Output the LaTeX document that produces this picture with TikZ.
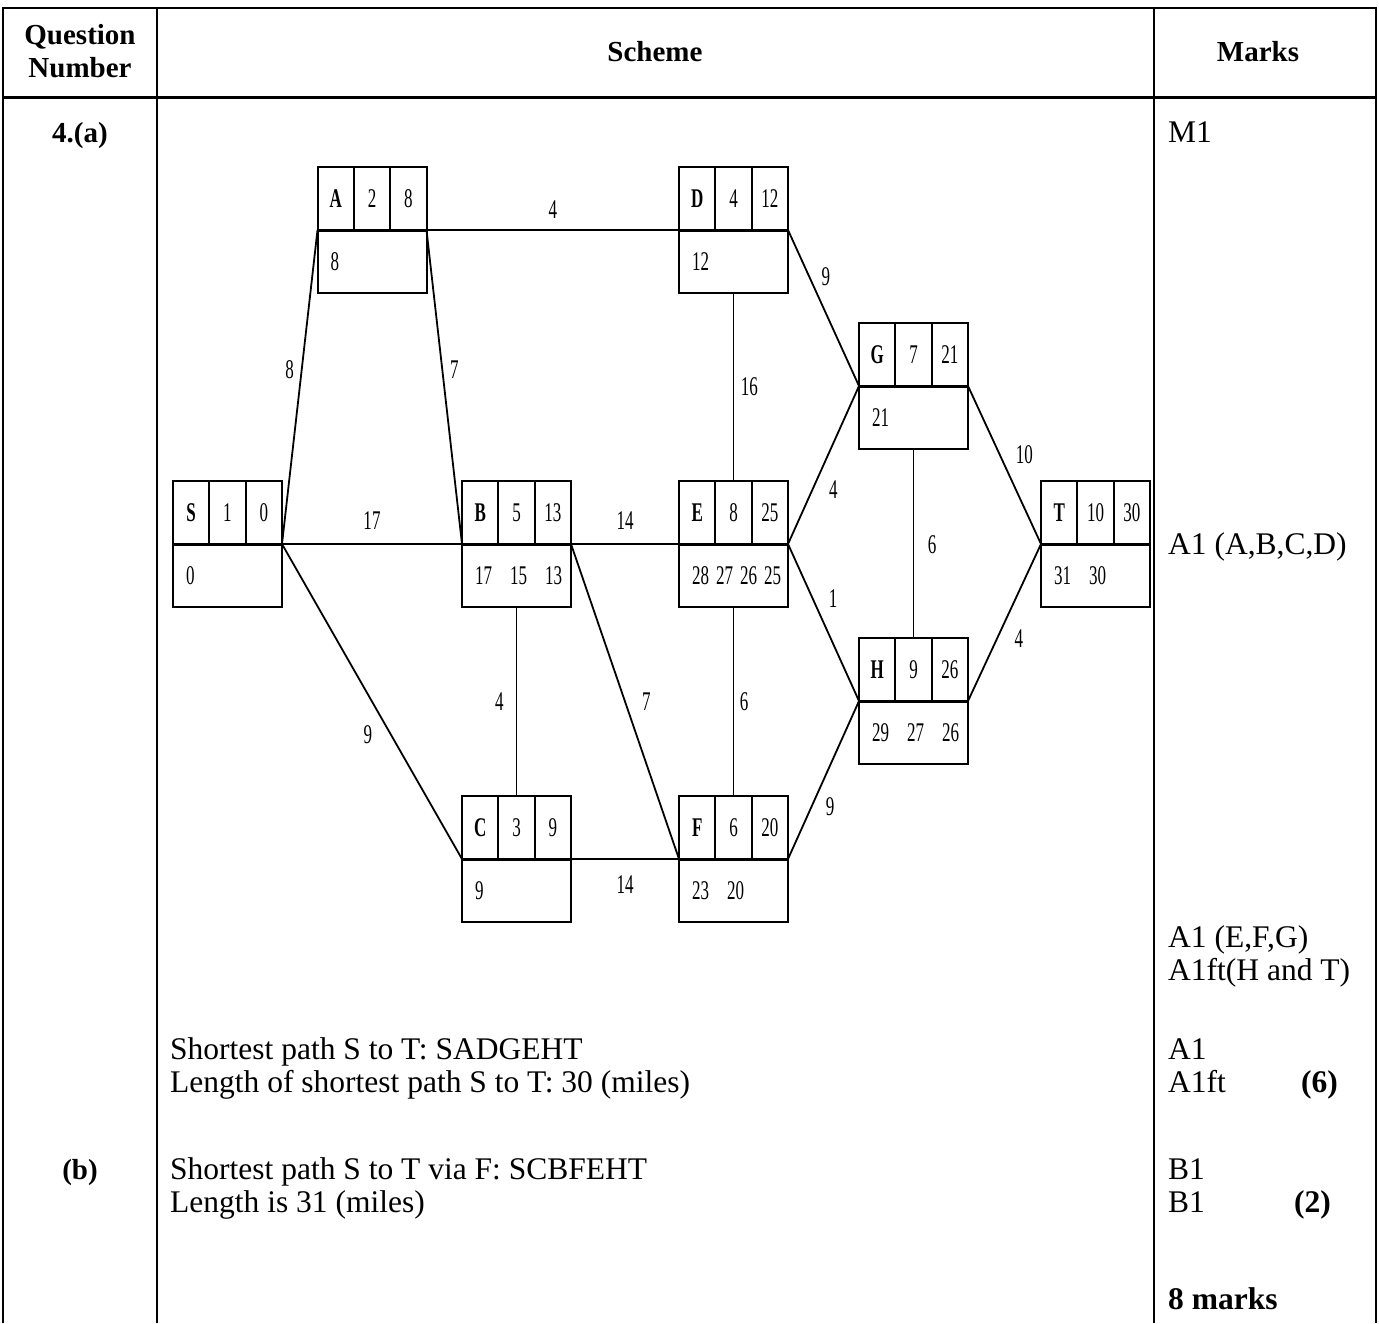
\documentclass[tikz,border=0pt]{standalone}
\usepackage{fontspec}
\setmainfont{Liberation Serif}
\newfontfamily\netfont[FakeStretch=0.63]{Liberation Serif}
\usetikzlibrary{positioning}

% one vertex box: name, centre x, divider y, letter, order, final value, working values
\newcommand{\netbox}[7]{%
  \node[netbox] (#1) at (#2,#3) {};
  \draw[divider] (#1.west) -- (#1.east);
  \draw[cellline] ([xshift=36.3pt]#1.north west) -- ([xshift=36.3pt]#1.west);
  \draw[cellline] ([xshift=-36.3pt]#1.north east) -- ([xshift=-36.3pt]#1.east);
  \node[cell] at ([xshift=18.2pt,yshift=31.5pt]#1.west) {\textbf{#4}};
  \node[cell] at ([yshift=31.5pt]#1.center) {#5};
  \node[cell] at ([xshift=-18.2pt,yshift=31.5pt]#1.east) {#6};
  \node[cell,anchor=west] at ([xshift=13pt,yshift=-31.5pt]#1.west) {#7};
}
\newcommand{\gap}{\hspace{18pt}}

\begin{document}
\begin{tikzpicture}[x=1pt, y=-1pt,
    netbox/.style={draw, line width=2pt, minimum width=109pt, minimum height=126pt, inner sep=0pt, outer sep=0pt},
    divider/.style={line width=3pt},
    cellline/.style={line width=1.7pt},
    cell/.style={font=\netfont\fontsize{27}{27}\selectfont, inner sep=0pt},
    edge/.style={line width=1.8pt},
    elabel/.style={font=\netfont\fontsize{27}{27}\selectfont, inner sep=0pt},
    rule/.style={line width=2pt},
    txt/.style={font=\fontsize{31.5}{33}\selectfont, inner sep=0pt, anchor=base west},
    head/.style={font=\fontsize{29}{33}\selectfont\bfseries, inner sep=0pt, anchor=base}]
  \useasboundingbox (0,0) rectangle (1379,1323);
  % table
  \draw[rule] (3,1323) -- (3,8) -- (1376,8) -- (1376,1323);
  \draw[rule] (157,8) -- (157,1323);
  \draw[rule] (1154,8) -- (1154,1323);
  \draw[line width=3pt] (3,97) -- (1376,97);
  % header
  \node[head] (qhead) at (80,44) {Question};
  \node[head] (nhead) at (80,77) {Number};
  \node[head] (shead) at (655,61) {Scheme};
  \node[head] (mhead) at (1258,61) {Marks};
  % vertex boxes
  \netbox{S}{227.5}{544}{S}{1}{0}{0}
  \netbox{A}{372}{230}{A}{2}{8}{8}
  \netbox{D}{733.5}{230}{D}{4}{12}{12}
  \netbox{B}{516.5}{544}{B}{5}{13}{17\gap 15\gap 13}
  \netbox{E}{733.5}{544}{E}{8}{25}{28\hspace{7pt}27\hspace{7pt}26\hspace{7pt}25}
  \netbox{C}{516.5}{859}{C}{3}{9}{9}
  \netbox{F}{733.5}{859}{F}{6}{20}{23\gap 20}
  \netbox{G}{913.5}{386}{G}{7}{21}{21}
  \netbox{H}{913.5}{701}{H}{9}{26}{29\gap 27\gap 26}
  \netbox{T}{1095.5}{544}{T}{10}{30}{31\gap 30}
  % arcs
  \draw[edge] (S.east) -- (A.west) node[elabel, pos=0.554, left=7pt] {8};
  \draw[edge] (A.east) -- (B.west) node[elabel, pos=0.446, right=7pt] {7};
  \draw[edge] (A.east) -- (D.west) node[elabel, midway, above=11pt] {4};
  \draw[edge] (S.east) -- (B.west) node[elabel, midway, above=14pt] {17};
  \draw[edge] (S.east) -- (C.west) node[elabel, pos=0.606, left=18pt] {9};
  \draw[edge] (B.east) -- (E.west) node[elabel, midway, above=14pt] {14};
  \draw[edge] (B.south) -- (C.north) node[elabel, midway, left=12pt] {4};
  \draw[edge] (B.east) -- (F.west) node[elabel, pos=0.502, right=16pt] {7};
  \draw[edge] (D.south) -- (E.north) node[elabel, midway, right=6.5pt] {16};
  \draw[edge] (E.south) -- (F.north) node[elabel, midway, right=5.5pt] {6};
  \draw[edge] (C.east) -- (F.west) node[elabel, midway, below=15.5pt] {14};
  \draw[edge] (D.east) -- (G.west) node[elabel, pos=0.3, right=11.5pt] {9};
  \draw[edge] (E.east) -- (G.west) node[elabel, pos=0.342, right=16pt] {4};
  \draw[edge] (E.east) -- (H.west) node[elabel, pos=0.35, right=15pt] {1};
  \draw[edge] (F.east) -- (H.west) node[elabel, pos=0.329, right=13.5pt] {9};
  \draw[edge] (G.south) -- (H.north) node[elabel, pos=0.508, right=13.5pt] {6};
  \draw[edge] (G.east) -- (T.west) node[elabel, pos=0.437, right=15pt] {10};
  \draw[edge] (H.east) -- (T.west) node[elabel, pos=0.395, right=17pt] {4};
  % question parts
  \node[head] (qa) at (80,142) {4.(a)};
  \node[head] (qb) at (80,1179) {(b)};
  % scheme text
  \node[txt] (la1) at (170,1059) {Shortest path S to T: SADGEHT};
  \node[txt] (la2) at (170,1092) {Length of shortest path S to T: 30 (miles)};
  \node[txt] (lb1) at (170,1179) {Shortest path S to T via F: SCBFEHT};
  \node[txt] (lb2) at (170,1212) {Length is 31 (miles)};
  % marks
  \node[txt] (m1) at (1168,142) {M1};
  \node[txt] (m2) at (1168,554) {A1 (A,B,C,D)};
  \node[txt] (m3) at (1168,947) {A1 (E,F,G)};
  \node[txt] (m4) at (1168,980) {A1ft(H and T)};
  \node[txt] (m5) at (1168,1059) {A1};
  \node[txt] (m6) at (1168,1092) {A1ft};
  \node[txt, anchor=base east, font=\fontsize{31.5}{33}\selectfont\bfseries] (t6) at (1338,1092) {(6)};
  \node[txt] (m7) at (1168,1179) {B1};
  \node[txt] (m8) at (1168,1212) {B1};
  \node[txt, anchor=base east, font=\fontsize{31.5}{33}\selectfont\bfseries] (t2) at (1331,1212) {(2)};
  \node[txt, font=\fontsize{31.5}{33}\selectfont\bfseries] (tot) at (1168,1309) {8 marks};
\end{tikzpicture}
\end{document}
